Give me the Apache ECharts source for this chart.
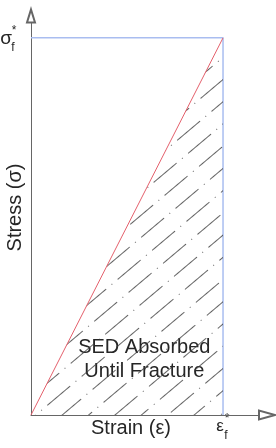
<!DOCTYPE html>
<html>
<head>
<meta charset="utf-8">
<script src="https://cdn.jsdelivr.net/npm/echarts@6/dist/echarts.min.js"></script>
<style>
  html, body { margin: 0; padding: 0; background: #fff; }
  #chart { width: 276px; height: 448px; }
</style>
</head>
<body>
<div id="chart"></div>
<script>
// elastic loading line, origin up to the fracture point (normalised units)
const strain = [0, 1]
const stress = [0, 1]
// limit box: top edge at sigma_f*, right edge at eps_f*
const boxStrain = [0, 1, 1]
const boxStress = [1, 1, 0]
const areaText = ['SED Absorbed', 'Until Fracture']

const font = 'Liberation Sans, Arial, sans-serif'
const axisColor = '#666'
const textColor = '#262626'

const zip = (xs, ys) => xs.map((x, i) => [x, ys[i]])

const chart = echarts.init(document.getElementById('chart'))

const axisBase = {
  type: 'value',
  min: 0,
  nameLocation: 'middle',
  axisTick: {show: false},
  axisLabel: {show: false},
  splitLine: {show: false},
}

chart.setOption({
  animation: false,
  grid: {left: 31, right: 9, top: 16, bottom: 33, outerBoundsMode: 'none'},
  xAxis: {
    ...axisBase,
    max: 1.229,
    name: 'Strain (ε)',
    nameGap: 3,
    nameTextStyle: {fontFamily: font, fontSize: 20, color: textColor, padding: [0, 36, 0, 0]},
    axisLine: {
      lineStyle: {color: axisColor, width: 1},
      symbol: ['none', 'emptyTriangle'],
      symbolSize: [9, 16],
    },
  },
  yAxis: {
    ...axisBase,
    max: 1.058,
    name: 'Stress (σ)',
    nameGap: 6,
    nameTextStyle: {fontFamily: font, fontSize: 20, color: textColor, padding: [0, 0, 0, 16]},
    axisLine: {
      lineStyle: {color: axisColor, width: 1},
      symbol: ['none', 'emptyTriangle'],
      symbolSize: [8, 13],
    },
  },
  series: [
    {
      // hatched region = strain energy density absorbed until fracture
      type: 'line',
      data: zip(strain, stress),
      showSymbol: false,
      z: 3,
      lineStyle: {color: '#e4606c', width: 1},
      itemStyle: {
        color: '#e4606c',
        decal: {
          symbol: 'rect',
          color: 'rgba(60,60,60,0.8)',
          backgroundColor: 'rgba(255,255,255,0)',
          dashArrayX: [[30, 7, 1, 7]],
          dashArrayY: [1, 16],
          rotation: -0.7,
        },
      },
      areaStyle: {color: 'rgba(255,255,255,0)', opacity: 1},
    },
    {
      type: 'line',
      data: zip(boxStrain, boxStress),
      showSymbol: false,
      z: 2,
      lineStyle: {color: '#a9bdf0', width: 1.5},
    },
  ],
})

// point labels and the area caption, placed from the axis scales
const pTop = chart.convertToPixel({gridIndex: 0}, [0, 1])
const pRight = chart.convertToPixel({gridIndex: 0}, [1, 0])
const pMid = chart.convertToPixel({gridIndex: 0}, [0.59, 0.146])

const txt = (text, x, y, size, align, extra) => ({
  type: 'text',
  x, y,
  style: Object.assign({
    text, fontFamily: font, fontSize: size, fill: textColor,
    align, verticalAlign: 'middle',
  }, extra || {}),
})

chart.setOption({
  graphic: [
    txt('σ', pTop[0] - 19, pTop[1] + 1, 19, 'right'),
    txt('*', pTop[0] - 17, pTop[1] - 7, 12, 'center'),
    txt('f', pTop[0] - 18, pTop[1] + 10, 12, 'center'),
    txt('ε', pRight[0] - 3, pRight[1] + 11, 17, 'center'),
    txt('*', pRight[0] + 4, pRight[1] + 4, 12, 'center'),
    txt('f', pRight[0] + 3, pRight[1] + 21, 12, 'center'),
    txt(areaText.join('\n'), pMid[0], pMid[1], 20, 'center', {lineHeight: 24}),
  ],
})
</script>
</body>
</html>
